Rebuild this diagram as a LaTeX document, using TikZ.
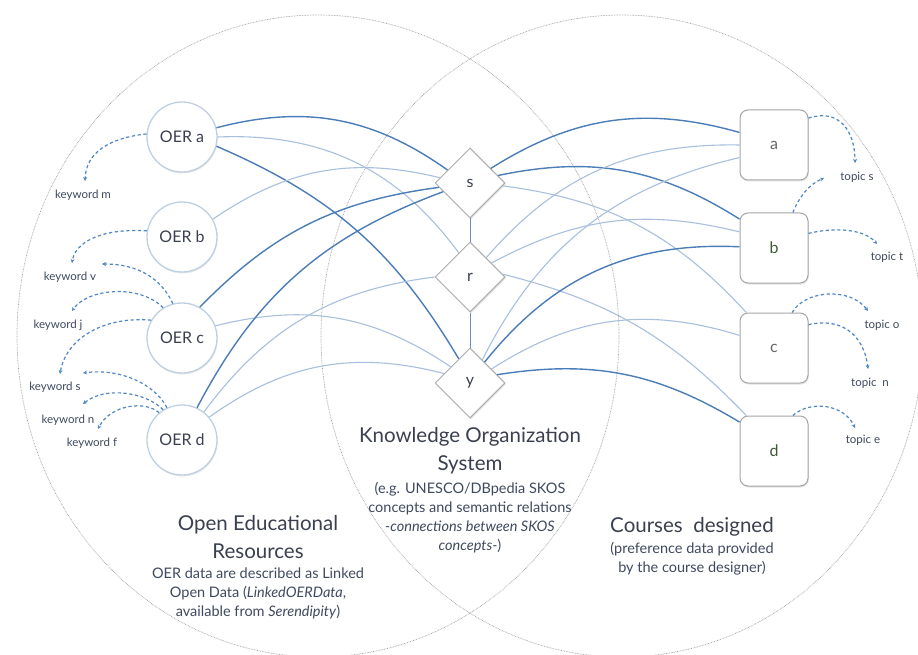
\documentclass[tikz,border=0pt]{standalone}
\usepackage{fontspec}
\setmainfont{Lato}
\usetikzlibrary{shapes.geometric,arrows.meta,shadows}
\definecolor{darkl}{HTML}{4B7DB9}
\definecolor{lightl}{HTML}{A8C0DD}
\definecolor{dashc}{HTML}{4F86C6}
\definecolor{oerline}{HTML}{BFD0E3}
\definecolor{txt}{HTML}{3B4050}
\definecolor{subtxt}{HTML}{3F4A5E}
\definecolor{greenl}{HTML}{3E5A35}
\definecolor{vline}{HTML}{6A8FBF}
\begin{document}
\begin{tikzpicture}[x=1pt,y=1pt,
  ring/.style={draw=gray!75, line width=0.7pt, dash pattern=on 0.7pt off 0.9pt},
  oer/.style={circle, draw=oerline, line width=1.3pt, fill=white, minimum size=70pt, inner sep=0pt,
    font=\fontsize{16}{18}\selectfont, text=txt,
    drop shadow={shadow xshift=0.6pt, shadow yshift=-1.5pt, opacity=0.18}},
  kos/.style={diamond, aspect=1, draw=gray!65, line width=1pt, fill=white, minimum width=70pt, minimum height=70pt,
    inner sep=0pt, font=\fontsize{16}{18}\selectfont, text=txt,
    drop shadow={shadow xshift=0.8pt, shadow yshift=-1.5pt, opacity=0.22}},
  course/.style={rectangle, rounded corners=8pt, draw=gray!70, line width=1pt, fill=white,
    minimum width=68pt, minimum height=70pt, inner sep=0pt, font=\fontsize{16}{18}\selectfont, text=gray!80!black,
    drop shadow={shadow xshift=0.8pt, shadow yshift=-1.5pt, opacity=0.22}},
  strong/.style={draw=darkl, line width=1.4pt},
  weak/.style={draw=lightl, line width=1.1pt},
  kw/.style={font=\fontsize{11.5}{13}\selectfont, text=subtxt, inner sep=0pt},
  link/.style={draw=dashc, line width=1.2pt, dash pattern=on 3.2pt off 2.6pt, -{Stealth[length=4pt,width=4pt]}},
  title/.style={font=\fontsize{20.5}{28}\selectfont, text=txt, align=center, inner sep=0pt},
  sub/.style={font=\fontsize{14.5}{19}\selectfont, text=subtxt, align=center, inner sep=0pt}
]
\useasboundingbox (0,0) rectangle (918,-655);
\fill[white] (0,0) rectangle (918,-655);

% big sets
\draw[ring] (318,-336) ellipse [x radius=301pt, y radius=321pt];
\draw[ring] (622,-336) ellipse [x radius=301pt, y radius=321pt];

% OER nodes
\node[oer] (oa) at (182,-137) {OER a};
\node[oer] (ob) at (182,-237) {OER b};
\node[oer] (oc) at (182,-338) {OER c};
\node[oer] (od) at (182,-440) {OER d};

% KOS nodes
\node[kos] (s) at (470,-183) {s};
\node[kos] (r) at (470,-277) {r};
\node[kos] (y) at (470,-383) {y};

% course nodes
\node[course] (ca) at (774,-145) {a};
\node[course, text=greenl] (cb) at (774,-248) {b};
\node[course] (cc) at (774,-348) {c};
\node[course, text=greenl] (cd) at (774,-451) {d};

% KOS links
\draw[vline, line width=1pt] (s.south) -- (r.north);
\draw[vline, line width=1pt] (r.south) -- (y.north);

% OER -> KOS
\draw[strong] (oa.15) to[bend left=25] (s.150);
\draw[weak] (oa.0) to[bend left=28] (r.115);
\draw[strong] (oa.-15) to[bend left=18] (y.115);
\draw[weak] (ob.30) to[bend left=24] (s.170);
\draw[strong] (oc.60) to[bend left=19] (s.188);
\draw[weak] (oc.20) to[bend left=24] (y.140);
\draw[strong] (od.65) to[bend left=21] (s.198);
\draw[weak] (od.52) to[bend left=23] (r.180);
\draw[weak] (od.40) to[bend left=25] (y.160);

% KOS -> courses
\draw[strong] (s.35) to[bend left=24] (ca.160);
\draw[strong] (s.15) to[bend left=22] (cb.140);
\draw[weak] (s.-5) to[bend left=20] (cc.128);
\draw[weak] (r.50) to[bend left=25] (ca.180);
\draw[weak] (r.33) to[bend left=21] (cb.155);
\draw[weak] (r.5) to[bend left=16] (cd.128);
\draw[weak] (y.62) to[bend left=25] (ca.200);
\draw[strong] (y.55) to[bend left=27] (cb.178);
\draw[weak] (y.33) to[bend left=25] (cc.160);
\draw[strong] (y.17) to[bend left=20] (cd.140);

% keyword labels
\node[kw] (km) at (83,-195) {keyword m};
\node[kw] (kv) at (70,-277) {keyword v};
\node[kw] (kj) at (58,-325) {keyword j};
\node[kw] (ks) at (55,-387) {keyword s};
\node[kw] (kn) at (68,-420) {keyword n};
\node[kw] (kf) at (92,-443) {keyword f};

% topic labels
\node[kw] (ts) at (857,-177) {topic s};
\node[kw] (tt) at (887,-257) {topic t};
\node[kw] (to) at (882,-325) {topic o};
\node[kw] (tn) at (870,-383) {topic~~n};
\node[kw] (te) at (863,-440) {topic e};

% arrow tips
\coordinate (pm) at (85,-181);
\coordinate (pv) at (72,-263);
\coordinate (pv2) at (102,-264);
\coordinate (pj) at (72,-311);
\coordinate (ps) at (60,-374);
\coordinate (ps2) at (83,-373);
\coordinate (pn) at (83,-404);
\coordinate (pf) at (98,-429);
\coordinate (qs) at (855,-163);
\coordinate (qs2) at (824,-178);
\coordinate (qt) at (877,-244);
\coordinate (qo) at (868,-311);
\coordinate (qn) at (868,-369);
\coordinate (qe) at (855,-428);

% dashed keyword links
\draw[link] (oa.175) .. controls (110,-138) and (86,-152) .. (pm);
\draw[link] (ob.170) .. controls (100,-228) and (75,-243) .. (pv);
\draw[link] (oc.105) .. controls (162,-280) and (140,-264) .. (pv2);
\draw[link] (oc.122) .. controls (140,-284) and (88,-288) .. (pj);
\draw[link] (oc.150) .. controls (105,-316) and (66,-338) .. (ps);
\draw[link] (od.115) .. controls (155,-384) and (120,-368) .. (ps2);
\draw[link] (od.122) .. controls (146,-392) and (105,-386) .. (pn);
\draw[link] (od.130) .. controls (145,-400) and (110,-405) .. (pf);

% dashed topic links
\draw[link] (ca.38) .. controls (840,-108) and (855,-132) .. (qs);
\draw[link] (cb.62) .. controls (800,-195) and (810,-184) .. (qs2);
\draw[link] (cb.23) .. controls (835,-227) and (864,-229) .. (qt);
\draw[link] (cc.63) .. controls (805,-290) and (850,-287) .. (qo);
\draw[link] (cc.34) .. controls (840,-317) and (864,-334) .. (qn);
\draw[link] (cd.62) .. controls (810,-400) and (844,-404) .. (qe);

% set titles
\node[title] (kost) at (470,-451) {Knowledge Organization\\System};
\node[sub] (kosd) at (470,-518) {(e.g. UNESCO/DBpedia SKOS\\concepts and semantic relations\\\textit{-connections between SKOS}\\\textit{concepts-})};
\node[title] (oert) at (258,-537) {Open Educational\\Resources};
\node[sub] (oerd) at (258,-593) {OER data are described as Linked\\Open Data (\textit{LinkedOERData},\\available from \textit{Serendipity})};
\node[title] (crst) at (692,-527) {Courses\ \ designed};
\node[sub] (crsd) at (692,-559) {(preference data provided\\by the course designer)};
\end{tikzpicture}
\end{document}
